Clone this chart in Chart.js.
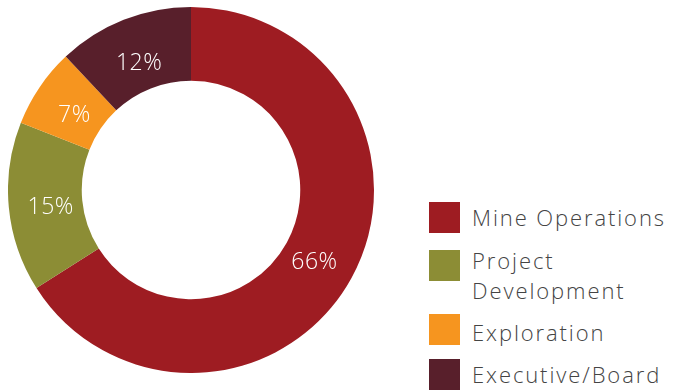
<!DOCTYPE html>
<html>
<head>
<meta charset="utf-8">
<script src="https://cdn.jsdelivr.net/npm/chart.js@4/dist/chart.umd.min.js"></script>
<style>
    body { margin: 0; background: #fff; width: 674px; height: 391px; overflow: hidden; position: relative; }
    #chart-box { position: absolute; left: 8px; top: 7px; width: 366px; height: 366px; }
    #legend { position: absolute; left: 429px; top: 202px; font-family: "Open Sans", sans-serif; font-weight: 300; font-size: 22px; letter-spacing: 1.9px; color: #444; }
    .swatch { position: absolute; left: 0; width: 31px; height: 31px; }
    .text { position: absolute; left: 43px; line-height: 30px; white-space: nowrap; }
</style>
</head>
<body>
<div id="chart-box"><canvas id="budgetChart"></canvas></div>
<div id="legend"></div>
<script>
const categories = ['Mine Operations', 'Project Development', 'Exploration', 'Executive/Board'];
const legendLines = [['Mine Operations'], ['Project', 'Development'], ['Exploration'], ['Executive/Board']];
const shares = [66, 15, 7, 12];
const colors = ['#9E1C22', '#8C8D35', '#F6951F', '#581F2B'];

// legend rows: swatch and text offsets from the legend top
const swatchTops = [0, 48, 112, 157];
const textTops = [0, 43, 115, 157];

// percentage text inside each ring segment
const sliceLabels = {
    id: 'sliceLabels',
    afterDatasetsDraw(chart) {
        const ctx = chart.ctx;
        const meta = chart.getDatasetMeta(0);
        ctx.save();
        ctx.fillStyle = '#fff';
        ctx.font = '300 23px "Open Sans", sans-serif';
        ctx.letterSpacing = '0.5px';
        ctx.textAlign = 'center';
        ctx.textBaseline = 'alphabetic';
        meta.data.forEach((arc, i) => {
            const p = arc.getProps(['x', 'y', 'startAngle', 'endAngle', 'innerRadius', 'outerRadius'], true);
            const mid = (p.startAngle + p.endAngle) / 2;
            const r = p.innerRadius + (p.outerRadius - p.innerRadius) * 0.43;
            ctx.fillText(shares[i] + '%', p.x + Math.cos(mid) * r, p.y + Math.sin(mid) * r + 11);
        });
        ctx.restore();
    }
};

new Chart(document.getElementById('budgetChart'), {
    type: 'doughnut',
    data: {
        labels: categories,
        datasets: [{
            data: shares,
            backgroundColor: colors,
            borderWidth: 0
        }]
    },
    options: {
        responsive: true,
        maintainAspectRatio: false,
        animation: false,
        cutout: '59.7%',
        layout: { padding: 0 },
        plugins: {
            legend: { display: false },
            tooltip: { enabled: false }
        }
    },
    plugins: [sliceLabels]
});

// legend on the right
const legend = document.getElementById('legend');
categories.forEach((name, i) => {
    const swatch = document.createElement('span');
    swatch.className = 'swatch';
    swatch.style.top = swatchTops[i] + 'px';
    swatch.style.background = colors[i];
    legend.appendChild(swatch);

    const text = document.createElement('div');
    text.className = 'text';
    text.style.top = textTops[i] + 'px';
    text.innerHTML = legendLines[i].join('<br>');
    legend.appendChild(text);
});
</script>
</body>
</html>
